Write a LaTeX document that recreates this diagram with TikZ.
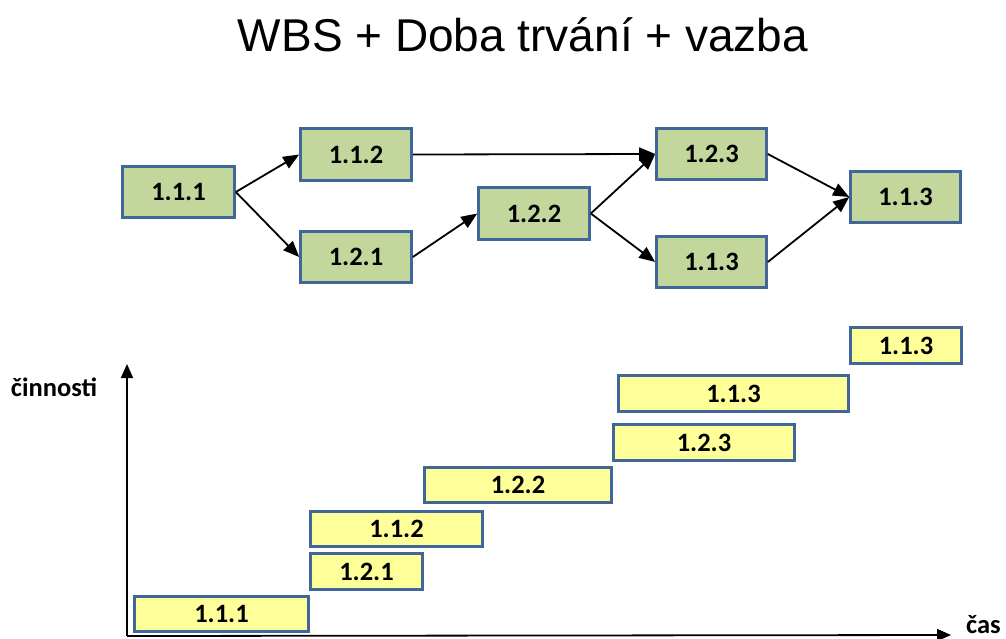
\documentclass[tikz,border=0pt]{standalone}
\usepackage{fontspec}
\setmainfont{Carlito}
\newfontfamily\titlefont{Liberation Sans}
\usetikzlibrary{arrows.meta}
\definecolor{boxborder}{HTML}{41679A}
\definecolor{greenfill}{HTML}{C3D69B}
\definecolor{yellowfill}{HTML}{FFFF99}
\tikzset{
  wbsbox/.style={draw=boxborder, line width=2.6pt, fill=greenfill, inner sep=0pt,
    font=\fontsize{26.5}{30}\selectfont\bfseries},
  barbox/.style={draw=boxborder, line width=2.6pt, fill=yellowfill, inner sep=0pt,
    font=\fontsize{26.5}{30}\selectfont\bfseries},
  link/.style={line width=1.8pt, -{Triangle[length=16pt,width=13pt]}},
  axis/.style={line width=1.8pt, -{Triangle[length=14pt,width=12pt]}},
  axlabel/.style={font=\fontsize{26.5}{30}\selectfont\bfseries, inner sep=0pt}
}
\begin{document}
\begin{tikzpicture}[x=1pt,y=-1pt]
\useasboundingbox (0,0) rectangle (1006,638);
\node[font=\titlefont\fontsize{46}{50}\selectfont, anchor=base, inner sep=0pt] (title) at (523,51) {WBS + Doba trvání + vazba};
% network
\node[wbsbox, minimum width=112pt, minimum height=51pt] (n111) at (178.5,192) {1.1.1};
\node[wbsbox, minimum width=111pt, minimum height=52pt] (n112) at (356,154.5) {1.1.2};
\node[wbsbox, minimum width=111pt, minimum height=51pt] (n121) at (356,257) {1.2.1};
\node[wbsbox, minimum width=111pt, minimum height=52pt] (n122) at (534,213.5) {1.2.2};
\node[wbsbox, minimum width=110pt, minimum height=51pt] (n123) at (711.5,154) {1.2.3};
\node[wbsbox, minimum width=110pt, minimum height=51pt] (n113a) at (711.5,262) {1.1.3};
\node[wbsbox, minimum width=110pt, minimum height=51pt] (n113b) at (905.5,197) {1.1.3};
\draw[link] (n111.east) -- (n112.west);
\draw[link] (n111.east) -- (n121.west);
\draw[link] (n112.east) -- (n123.west);
\draw[link] (n121.east) -- (n122.west);
\draw[link] (n122.east) -- (n123.west);
\draw[link] (n122.east) -- (n113a.west);
\draw[link] (n123.east) -- (n113b.west);
\draw[link] (n113a.east) -- (n113b.west);
% axes
\coordinate (origin) at (127,636);
\coordinate (ytip) at (127,364);
\coordinate (xtip) at (951,635);
\draw[axis] (origin) -- (ytip);
\draw[axis] (origin) -- (xtip);
\node[axlabel] (ylab) at (54,387) {činnosti};
\node[axlabel, anchor=west] (xlab) at (966,625) {čas};
% bars
\node[barbox, minimum width=174pt, minimum height=35pt] (b111) at (221.5,614) {1.1.1};
\node[barbox, minimum width=112pt, minimum height=36pt] (b121) at (366.5,571.5) {1.2.1};
\node[barbox, minimum width=172pt, minimum height=35pt] (b112) at (396.5,529) {1.1.2};
\node[barbox, minimum width=187pt, minimum height=35pt] (b122) at (518,485) {1.2.2};
\node[barbox, minimum width=181pt, minimum height=36pt] (b123) at (704,442.5) {1.2.3};
\node[barbox, minimum width=230pt, minimum height=36pt] (b113a) at (733.5,393.5) {1.1.3};
\node[barbox, minimum width=111pt, minimum height=36pt] (b113b) at (906,345.5) {1.1.3};
\end{tikzpicture}
\end{document}
